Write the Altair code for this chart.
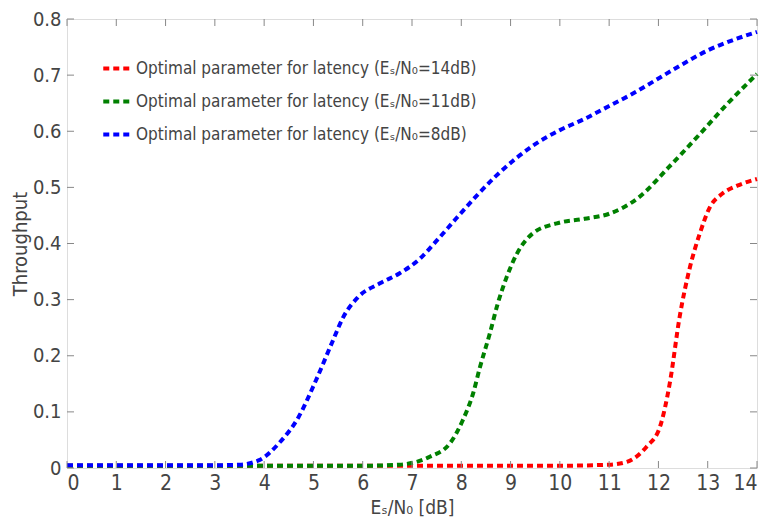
import altair as alt
import pandas as pd

# ---- data ----
series_names = [
    "Optimal parameter for latency (Eₛ/N₀=14dB)",
    "Optimal parameter for latency (Eₛ/N₀=11dB)",
    "Optimal parameter for latency (Eₛ/N₀=8dB)",
]
series_colors = ["#ff0000", "#008000", "#0000ff"]

red_x = [0, 2, 4, 6, 8, 10, 11, 11.36, 11.76, 12.03, 12.23, 12.43, 12.64, 12.84, 13.04, 13.3, 13.6, 14]
red_y = [0.004, 0.004, 0.004, 0.004, 0.004, 0.004, 0.006, 0.011, 0.038, 0.073, 0.151, 0.269, 0.358, 0.418, 0.464, 0.489, 0.503, 0.515]

green_x = [0, 2, 4, 6, 6.75, 7.36, 7.77, 8.03, 8.24, 8.38, 8.58, 8.74, 8.92, 9.13, 9.45, 9.94, 10.5, 11, 11.6, 12.2, 12.84, 13.4, 14]
green_y = [0.004, 0.004, 0.004, 0.004, 0.006, 0.02, 0.044, 0.085, 0.133, 0.18, 0.24, 0.293, 0.34, 0.382, 0.418, 0.436, 0.444, 0.453, 0.482, 0.535, 0.595, 0.649, 0.702]

blue_x = [0, 1, 2, 3, 3.5, 3.9, 4.3, 4.7, 5.05, 5.4, 5.6, 5.9, 6.35, 6.75, 7.15, 7.5, 7.9, 8.3, 8.7, 9.1, 9.5, 10, 10.5, 11, 11.5, 12, 12.5, 13, 13.5, 14]
blue_y = [0.005, 0.005, 0.005, 0.005, 0.006, 0.014, 0.044, 0.091, 0.156, 0.228, 0.268, 0.304, 0.329, 0.347, 0.372, 0.405, 0.445, 0.484, 0.52, 0.551, 0.577, 0.602, 0.622, 0.645, 0.668, 0.694, 0.72, 0.744, 0.762, 0.777]

x_ticks = list(range(0, 15))
y_ticks = [0, 0.1, 0.2, 0.3, 0.4, 0.5, 0.6, 0.7, 0.8]

FONT = "DejaVu Sans Condensed, DejaVu Sans, sans-serif"
TEXT = "#444444"
FRAME = "#888888"
W, H = 690, 449


def frame(xs, ys, name):
    return pd.DataFrame({"x": xs, "y": ys, "series": name})


color_scale = alt.Scale(domain=series_names, range=series_colors)

x_scale = alt.Scale(domain=[0, 14], nice=False, zero=False)
y_scale = alt.Scale(domain=[0, 0.8], nice=False)

x_axis = alt.Axis(
    values=x_ticks, format="d", grid=False, ticks=False, domain=False,
    labelFont=FONT, labelFontSize=21, labelColor=TEXT, labelPadding=4,
    title="Eₛ/N₀ [dB]", titleFont=FONT, titleFontSize=19, titleColor=TEXT,
    titleFontWeight="normal", titleY=39, titleBaseline="middle",
)
y_axis = alt.Axis(
    values=y_ticks, grid=False, ticks=False, domain=False,
    labelExpr="datum.value == 0 ? '0' : format(datum.value, '.1f')",
    labelFont=FONT, labelFontSize=20, labelColor=TEXT, labelPadding=6,
    title="Throughput", titleFont=FONT, titleFontSize=20, titleColor=TEXT,
    titleFontWeight="normal", titleX=-47, titleY=H / 2, titleAngle=-90,
    titleAlign="center", titleBaseline="middle",
)

legend = alt.Legend(
    title=None, orient="none", legendX=34, legendY=34,
    symbolType="stroke", symbolStrokeWidth=4, symbolDash=[6, 4],
    symbolSize=700, labelFont=FONT, labelFontSize=17, labelColor=TEXT,
    rowPadding=9, labelOffset=4, symbolOpacity=1, labelLimit=600,
)

X = alt.X("x:Q", scale=x_scale, axis=x_axis)
Y = alt.Y("y:Q", scale=y_scale, axis=y_axis)


def line(df):
    return alt.Chart(df).mark_line(
        strokeWidth=4, strokeDash=[6, 4], interpolate="monotone"
    ).encode(
        x=X, y=Y,
        color=alt.Color("series:N", scale=color_scale, legend=legend),
    )


red = line(frame(red_x, red_y, series_names[0]))
green = line(frame(green_x, green_y, series_names[1]))
blue = line(frame(blue_x, blue_y, series_names[2]))

xt = pd.DataFrame({"x": x_ticks})
yt = pd.DataFrame({"y": y_ticks})
tick_style = dict(color=FRAME, strokeWidth=1)
ticks_bottom = alt.Chart(xt).mark_rule(**tick_style).encode(
    x=X, y=alt.value(H), y2=alt.value(H - 7))
ticks_top = alt.Chart(xt).mark_rule(**tick_style).encode(
    x=X, y=alt.value(0), y2=alt.value(7))
ticks_left = alt.Chart(yt).mark_rule(**tick_style).encode(
    y=Y, x=alt.value(0), x2=alt.value(7))
ticks_right = alt.Chart(yt).mark_rule(**tick_style).encode(
    y=Y, x=alt.value(W), x2=alt.value(W - 7))

chart = alt.layer(
    red, green, blue, ticks_bottom, ticks_top, ticks_left, ticks_right
).properties(
    width=W, height=H,
    autosize=alt.AutoSizeParams(type="none"),
    padding={"left": 59, "top": 11, "right": 6, "bottom": 49},
).configure_view(
    stroke=FRAME, strokeWidth=1.5
).configure(background="white")

chart.save("out.html", embed_options={"renderer": "svg", "actions": False})
